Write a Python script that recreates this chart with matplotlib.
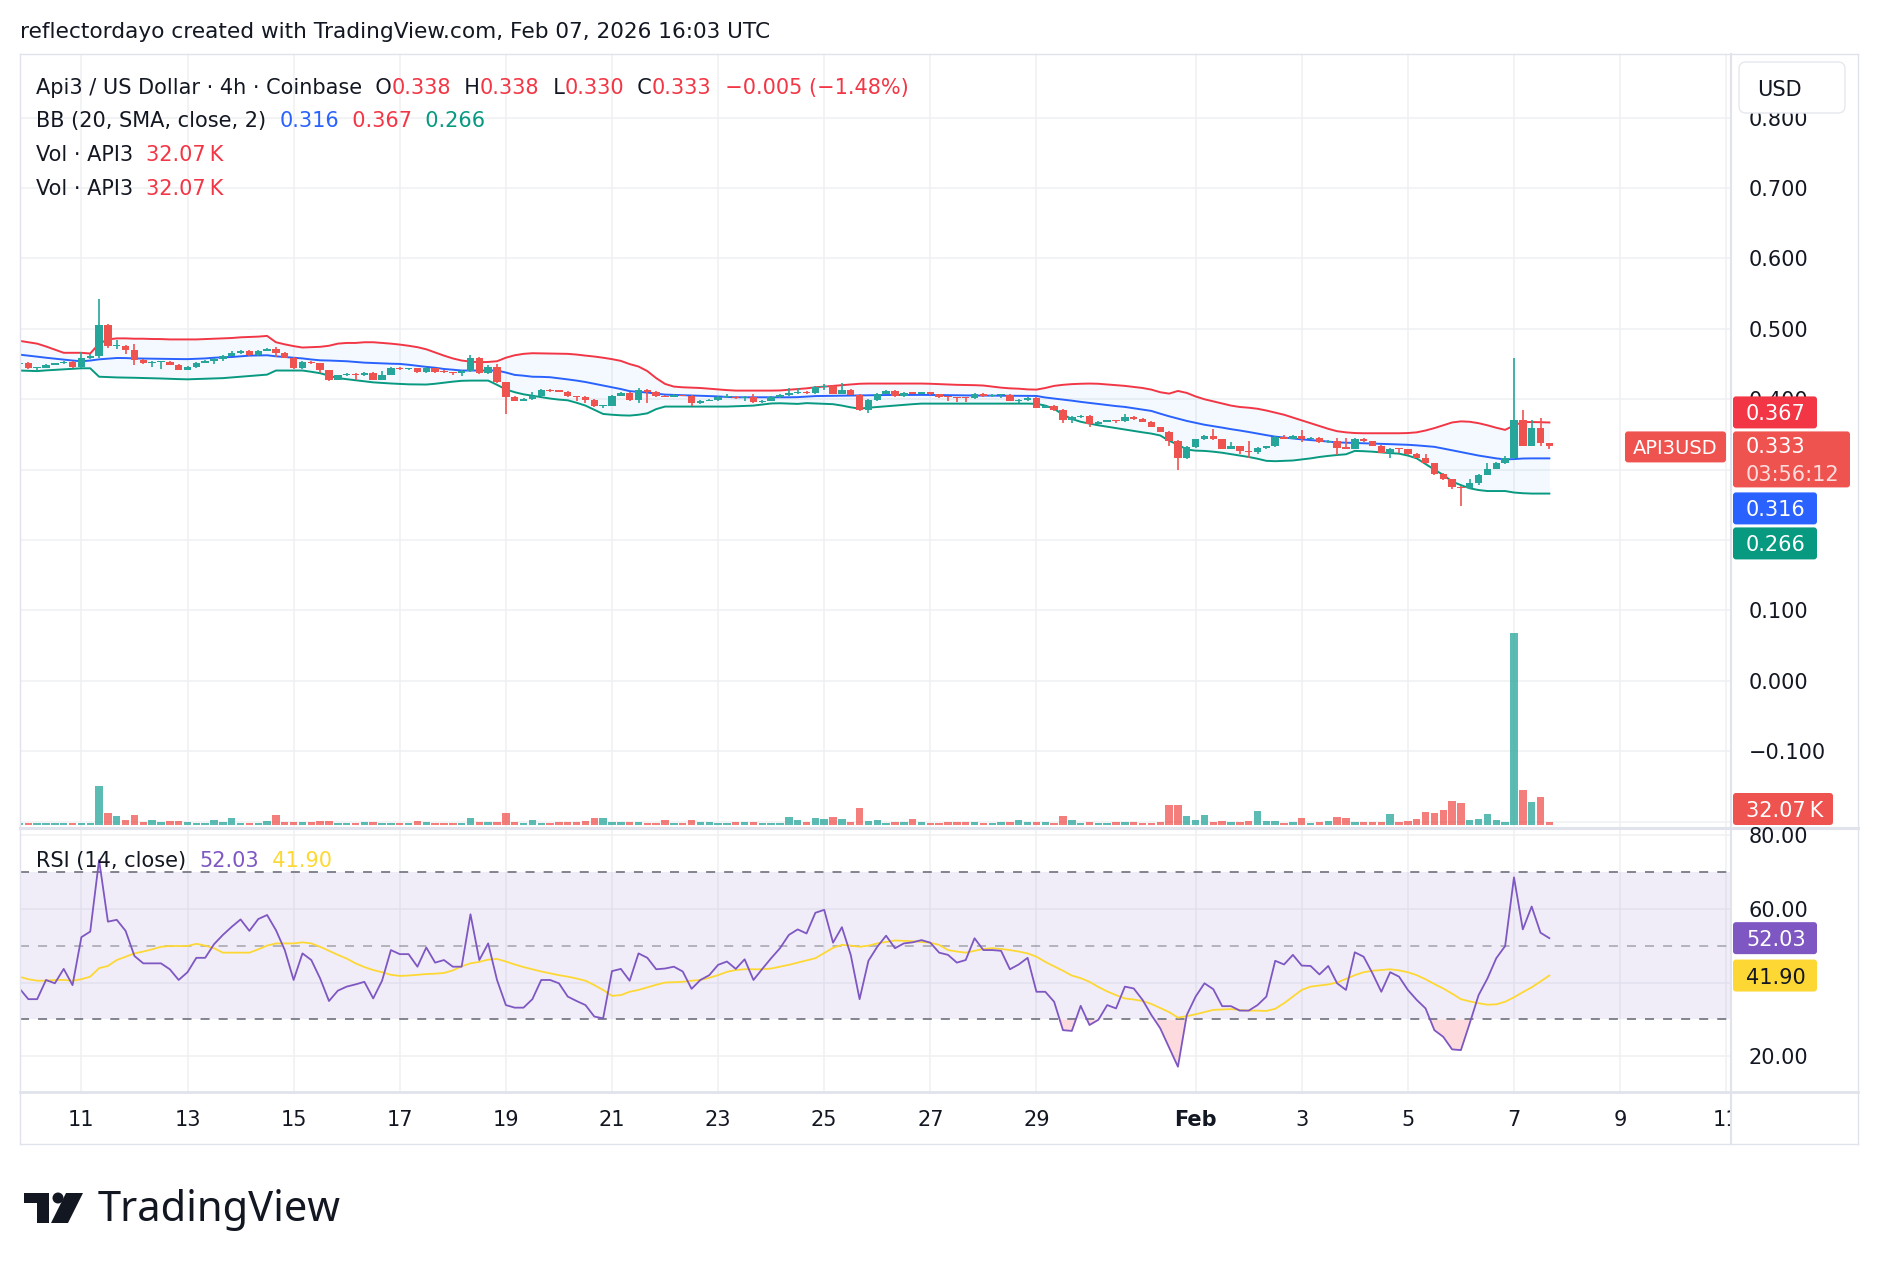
import matplotlib
matplotlib.use('Agg')
import matplotlib.pyplot as plt
import matplotlib.dates as mdates
import matplotlib.transforms as mtrans
from matplotlib.patches import Rectangle, FancyBboxPatch, Circle, Polygon
from matplotlib.lines import Line2D
import numpy as np
import pandas as pd

W, H = 1878, 1266
plt.rcParams['font.family'] = ['DejaVu Sans']

# ---- data (4h candles, Api3 / USD, Coinbase) ----
times = pd.date_range('2026-01-09 20:00', periods=174, freq='4h')
first_open = 0.450

close = [0.452, 0.4447, 0.445, 0.449, 0.451, 0.453, 0.446, 0.459, 0.462, 0.505,
         0.475, 0.476, 0.470, 0.456, 0.451, 0.453, 0.4535, 0.449, 0.442, 0.446,
         0.452, 0.455, 0.457, 0.462, 0.466, 0.469, 0.463, 0.469, 0.472, 0.466,
         0.459, 0.444, 0.453, 0.451, 0.441, 0.428, 0.434, 0.436, 0.434, 0.438,
         0.428, 0.435, 0.4447, 0.443, 0.444, 0.439, 0.4446, 0.439, 0.4385, 0.437,
         0.440, 0.458, 0.437, 0.4455, 0.424, 0.403, 0.398, 0.401, 0.405, 0.413,
         0.412, 0.411, 0.404, 0.403, 0.399, 0.390, 0.391, 0.405, 0.409, 0.399,
         0.413, 0.411, 0.404, 0.4035, 0.406, 0.405, 0.394, 0.398, 0.399, 0.403,
         0.4035, 0.402, 0.403, 0.396, 0.398, 0.403, 0.406, 0.409, 0.411, 0.409,
         0.4175, 0.419, 0.408, 0.4137, 0.4066, 0.385, 0.3986, 0.408, 0.412, 0.4043,
         0.409, 0.408, 0.4097, 0.407, 0.403, 0.4025, 0.402, 0.4015, 0.408, 0.404,
         0.406, 0.4065, 0.398, 0.3995, 0.402, 0.388, 0.391, 0.385, 0.370, 0.375,
         0.376, 0.3645, 0.368, 0.370, 0.369, 0.375, 0.372, 0.368, 0.3607, 0.354,
         0.3407, 0.316, 0.332, 0.343, 0.348, 0.343, 0.330, 0.333, 0.326, 0.325,
         0.331, 0.333, 0.347, 0.344, 0.348, 0.344, 0.345, 0.339, 0.341, 0.331,
         0.330, 0.344, 0.340, 0.334, 0.324, 0.330, 0.329, 0.322, 0.317, 0.309,
         0.294, 0.286, 0.2755, 0.274, 0.281, 0.293, 0.3015, 0.310, 0.316, 0.370,
         0.334, 0.359, 0.338, 0.333]

high = [0.453, 0.453, 0.446, 0.450, 0.452, 0.454, 0.454, 0.467, 0.465, 0.543,
        0.507, 0.484, 0.477, 0.479, 0.457, 0.454, 0.455, 0.455, 0.450, 0.447,
        0.453, 0.456, 0.458, 0.463, 0.469, 0.470, 0.470, 0.470, 0.473, 0.474,
        0.467, 0.460, 0.454, 0.454, 0.452, 0.442, 0.435, 0.437, 0.437, 0.439,
        0.439, 0.440, 0.446, 0.446, 0.445, 0.445, 0.446, 0.445, 0.441, 0.439,
        0.441, 0.4635, 0.460, 0.4485, 0.4495, 0.425, 0.404, 0.402, 0.410, 0.414,
        0.414, 0.413, 0.412, 0.405, 0.404, 0.400, 0.392, 0.406, 0.4105, 0.410,
        0.416, 0.414, 0.412, 0.406, 0.407, 0.4065, 0.406, 0.399, 0.400, 0.404,
        0.408, 0.404, 0.404, 0.408, 0.399, 0.404, 0.407, 0.4155, 0.4155, 0.412,
        0.4185, 0.422, 0.420, 0.4235, 0.415, 0.407, 0.400, 0.409, 0.413, 0.413,
        0.4105, 0.411, 0.411, 0.4105, 0.408, 0.404, 0.403, 0.403, 0.409, 0.409,
        0.407, 0.4075, 0.407, 0.4005, 0.403, 0.403, 0.392, 0.392, 0.386, 0.376,
        0.377, 0.377, 0.369, 0.371, 0.371, 0.379, 0.376, 0.373, 0.369, 0.361,
        0.355, 0.342, 0.334, 0.344, 0.349, 0.358, 0.344, 0.339, 0.334, 0.341,
        0.332, 0.334, 0.348, 0.349, 0.349, 0.357, 0.346, 0.346, 0.342, 0.345,
        0.345, 0.345, 0.345, 0.341, 0.335, 0.331, 0.331, 0.330, 0.323, 0.322,
        0.310, 0.295, 0.287, 0.277, 0.287, 0.294, 0.310, 0.311, 0.320, 0.459,
        0.385, 0.371, 0.373, 0.338]

low = [0.449, 0.4435, 0.442, 0.444, 0.448, 0.450, 0.445, 0.445, 0.457, 0.459,
       0.473, 0.471, 0.464, 0.448, 0.450, 0.446, 0.443, 0.448, 0.441, 0.441,
       0.445, 0.451, 0.450, 0.455, 0.461, 0.465, 0.462, 0.462, 0.468, 0.460,
       0.458, 0.443, 0.443, 0.450, 0.438, 0.426, 0.427, 0.433, 0.427, 0.433,
       0.427, 0.427, 0.434, 0.442, 0.442, 0.438, 0.437, 0.438, 0.437, 0.434,
       0.433, 0.439, 0.436, 0.436, 0.423, 0.379, 0.397, 0.397, 0.399, 0.404,
       0.411, 0.410, 0.403, 0.397, 0.395, 0.389, 0.387, 0.390, 0.404, 0.398,
       0.395, 0.395, 0.403, 0.403, 0.403, 0.404, 0.390, 0.393, 0.397, 0.398,
       0.402, 0.401, 0.398, 0.395, 0.395, 0.397, 0.402, 0.405, 0.408, 0.408,
       0.408, 0.413, 0.407, 0.407, 0.406, 0.384, 0.381, 0.398, 0.407, 0.403,
       0.403, 0.407, 0.407, 0.406, 0.402, 0.398, 0.396, 0.396, 0.401, 0.403,
       0.403, 0.402, 0.397, 0.395, 0.398, 0.387, 0.387, 0.384, 0.3665, 0.3665,
       0.374, 0.361, 0.363, 0.367, 0.366, 0.368, 0.371, 0.367, 0.360, 0.353,
       0.334, 0.300, 0.315, 0.331, 0.342, 0.342, 0.329, 0.329, 0.322, 0.317,
       0.322, 0.330, 0.332, 0.343, 0.343, 0.339, 0.343, 0.338, 0.338, 0.321,
       0.329, 0.329, 0.339, 0.333, 0.323, 0.317, 0.323, 0.321, 0.316, 0.308,
       0.292, 0.285, 0.273, 0.248, 0.273, 0.278, 0.292, 0.301, 0.308, 0.315,
       0.333, 0.333, 0.333, 0.330]

volume_k = [22, 22, 26, 23, 23, 22, 26, 30, 30, 503,
            157, 119, 68, 132, 42, 64, 42, 47, 55, 42,
            26, 26, 64, 42, 90, 26, 22, 26, 55, 132,
            42, 35, 35, 42, 55, 55, 26, 26, 26, 42,
            42, 26, 26, 26, 26, 55, 35, 26, 26, 26,
            23, 93, 42, 42, 42, 157, 35, 30, 64, 30,
            30, 35, 35, 35, 55, 90, 90, 35, 42, 35,
            42, 30, 30, 64, 30, 30, 64, 42, 35, 30,
            30, 35, 35, 35, 30, 30, 30, 102, 64, 35,
            90, 77, 102, 77, 35, 218, 55, 64, 30, 35,
            35, 77, 35, 30, 30, 35, 35, 42, 35, 30,
            30, 42, 35, 64, 35, 35, 35, 30, 115, 64,
            30, 42, 30, 30, 42, 35, 35, 30, 30, 35,
            260, 260, 119, 64, 128, 42, 55, 42, 42, 55,
            179, 47, 55, 30, 35, 90, 30, 42, 55, 102,
            90, 35, 35, 35, 42, 141, 42, 55, 73, 166,
            154, 196, 307, 282, 68, 77, 145, 68, 42, 2460,
            452, 298, 362, 32.07]

bb_upper = [0.483, 0.481, 0.479, 0.475, 0.4705, 0.466, 0.466, 0.466, 0.465, 0.479,
            0.485, 0.4865, 0.4865, 0.486, 0.486, 0.4856, 0.4855, 0.485, 0.485, 0.485,
            0.485, 0.4855, 0.486, 0.4865, 0.487, 0.488, 0.4885, 0.489, 0.490, 0.481,
            0.478, 0.4755, 0.4735, 0.474, 0.4745, 0.476, 0.479, 0.480, 0.480, 0.481,
            0.481, 0.480, 0.479, 0.4777, 0.476, 0.474, 0.471, 0.4665, 0.462, 0.458,
            0.455, 0.4535, 0.4526, 0.453, 0.454, 0.459, 0.4625, 0.4645, 0.4654, 0.4652,
            0.465, 0.4648, 0.4645, 0.4635, 0.462, 0.4607, 0.459, 0.457, 0.4545, 0.450,
            0.4465, 0.440, 0.430, 0.4218, 0.418, 0.417, 0.4165, 0.416, 0.415, 0.414,
            0.413, 0.4123, 0.4123, 0.4123, 0.4123, 0.4123, 0.4125, 0.4135, 0.4145, 0.4155,
            0.417, 0.418, 0.419, 0.420, 0.421, 0.422, 0.4223, 0.4223, 0.4223, 0.4223,
            0.4223, 0.4223, 0.4223, 0.422, 0.4215, 0.421, 0.4205, 0.4203, 0.420, 0.4195,
            0.418, 0.4165, 0.4155, 0.415, 0.414, 0.4137, 0.416, 0.419, 0.4205, 0.4215,
            0.422, 0.4223, 0.422, 0.421, 0.420, 0.419, 0.4175, 0.416, 0.4137, 0.410,
            0.408, 0.4118, 0.409, 0.404, 0.400, 0.397, 0.394, 0.391, 0.389, 0.388,
            0.3865, 0.384, 0.381, 0.378, 0.374, 0.370, 0.366, 0.362, 0.358, 0.3546,
            0.353, 0.352, 0.3517, 0.3517, 0.3517, 0.3517, 0.3517, 0.352, 0.353, 0.3556,
            0.359, 0.363, 0.367, 0.3686, 0.368, 0.366, 0.363, 0.3595, 0.3565, 0.3628,
            0.3676, 0.3676, 0.3674, 0.367]

bb_basis = [0.4634, 0.462, 0.4605, 0.459, 0.4577, 0.4565, 0.455, 0.454, 0.455, 0.4567,
            0.4577, 0.4586, 0.4585, 0.458, 0.4578, 0.4577, 0.4575, 0.4573, 0.4571, 0.457,
            0.4575, 0.458, 0.459, 0.4596, 0.460, 0.461, 0.462, 0.4622, 0.4625, 0.461,
            0.460, 0.459, 0.458, 0.4565, 0.4553, 0.455, 0.4545, 0.454, 0.453, 0.452,
            0.4515, 0.451, 0.4505, 0.4502, 0.449, 0.4475, 0.446, 0.4448, 0.443, 0.442,
            0.4408, 0.4408, 0.4408, 0.4408, 0.4408, 0.438, 0.4346, 0.4335, 0.432, 0.4318,
            0.4313, 0.4298, 0.4282, 0.4265, 0.4245, 0.422, 0.4194, 0.417, 0.4145, 0.4115,
            0.4105, 0.4095, 0.408, 0.4066, 0.4062, 0.4058, 0.4054, 0.405, 0.4045, 0.404,
            0.4033, 0.4028, 0.4028, 0.4028, 0.4028, 0.4028, 0.4028, 0.4028, 0.403, 0.4038,
            0.4045, 0.4047, 0.4048, 0.405, 0.4052, 0.4055, 0.4057, 0.4059, 0.406, 0.406,
            0.4061, 0.4062, 0.4062, 0.4061, 0.406, 0.4058, 0.4056, 0.4055, 0.4053, 0.4052,
            0.4051, 0.405, 0.4049, 0.4048, 0.4048, 0.4047, 0.4025, 0.401, 0.3995, 0.398,
            0.3963, 0.3948, 0.3933, 0.3918, 0.3903, 0.3891, 0.3872, 0.3853, 0.3834, 0.3795,
            0.3758, 0.3725, 0.3692, 0.3665, 0.3638, 0.3618, 0.3597, 0.3575, 0.3556, 0.3535,
            0.3512, 0.349, 0.3469, 0.3456, 0.3443, 0.343, 0.342, 0.341, 0.3398, 0.3387,
            0.3383, 0.3379, 0.3375, 0.3372, 0.3367, 0.3362, 0.3357, 0.3353, 0.3345, 0.3335,
            0.3324, 0.330, 0.3275, 0.325, 0.3225, 0.320, 0.318, 0.316, 0.3145, 0.315,
            0.3158, 0.316, 0.316, 0.316]

bb_lower = [0.4408, 0.4404, 0.440, 0.441, 0.4418, 0.4425, 0.4432, 0.444, 0.444, 0.432,
            0.4315, 0.431, 0.4308, 0.4305, 0.4302, 0.430, 0.4295, 0.429, 0.4286, 0.4283,
            0.4287, 0.4292, 0.4296, 0.430, 0.431, 0.432, 0.433, 0.434, 0.435, 0.4408,
            0.4408, 0.4408, 0.4408, 0.439, 0.437, 0.4335, 0.430, 0.4285, 0.427, 0.4255,
            0.424, 0.4232, 0.4224, 0.4218, 0.4212, 0.421, 0.4209, 0.422, 0.4235, 0.425,
            0.4262, 0.4265, 0.4265, 0.4265, 0.4205, 0.414, 0.410, 0.407, 0.405, 0.403,
            0.401, 0.3995, 0.3985, 0.395, 0.391, 0.385, 0.3791, 0.378, 0.3772, 0.3768,
            0.378, 0.380, 0.386, 0.3896, 0.3896, 0.3896, 0.3896, 0.3896, 0.3896, 0.3896,
            0.3896, 0.390, 0.3905, 0.391, 0.3925, 0.394, 0.3943, 0.3938, 0.3934, 0.3945,
            0.394, 0.3935, 0.393, 0.391, 0.3885, 0.3867, 0.388, 0.389, 0.390, 0.391,
            0.392, 0.393, 0.3938, 0.3938, 0.3938, 0.3938, 0.3938, 0.3938, 0.3938, 0.3938,
            0.3938, 0.3938, 0.3938, 0.3938, 0.3938, 0.3935, 0.391, 0.3865, 0.378, 0.372,
            0.368, 0.3654, 0.363, 0.361, 0.359, 0.3569, 0.355, 0.353, 0.3512, 0.3485,
            0.341, 0.3355, 0.3285, 0.327, 0.3266, 0.3255, 0.324, 0.322, 0.320, 0.318,
            0.3155, 0.3125, 0.312, 0.3125, 0.313, 0.3145, 0.316, 0.318, 0.3195, 0.3208,
            0.3218, 0.3266, 0.3262, 0.3255, 0.3245, 0.3235, 0.3227, 0.320, 0.316, 0.308,
            0.300, 0.2925, 0.2831, 0.278, 0.2735, 0.271, 0.2696, 0.2696, 0.2696, 0.2675,
            0.2665, 0.266, 0.266, 0.266]

rsi = [38.4, 35.5, 35.5, 40.7, 39.8, 43.7, 39.3, 52.3, 53.8, 73.2,
       56.5, 57.0, 54.0, 47.2, 45.2, 45.2, 45.2, 43.6, 40.7, 42.8,
       46.7, 46.7, 50.4, 52.9, 55.1, 57.1, 54.0, 57.2, 58.3, 54.2,
       48.8, 40.7, 47.9, 46.1, 41.1, 35.0, 37.8, 38.9, 39.5, 40.2,
       35.7, 40.5, 48.8, 47.7, 47.7, 44.3, 49.5, 45.4, 46.1, 44.3,
       44.3, 58.5, 46.1, 50.6, 40.7, 33.9, 33.2, 33.2, 35.5, 40.7,
       40.7, 39.8, 36.2, 35.0, 33.9, 30.8, 30.3, 43.1, 43.7, 40.5,
       47.9, 46.7, 43.6, 43.8, 44.3, 43.0, 38.3, 40.7, 42.0, 44.8,
       45.7, 43.7, 46.3, 40.7, 43.7, 46.6, 49.3, 52.9, 54.4, 53.3,
       58.9, 59.7, 50.8, 55.0, 47.5, 35.5, 45.9, 49.7, 52.7, 49.3,
       50.6, 50.9, 51.5, 50.8, 48.1, 47.5, 45.4, 46.1, 52.0, 48.8,
       48.8, 48.6, 43.6, 44.9, 46.7, 37.5, 37.5, 34.8, 27.1, 26.9,
       33.7, 28.5, 29.9, 33.9, 33.0, 38.9, 38.4, 35.3, 31.2, 27.6,
       22.4, 17.2, 31.2, 36.2, 39.8, 38.2, 33.6, 33.6, 32.4, 32.4,
       33.9, 36.2, 45.9, 44.9, 47.5, 44.6, 44.5, 42.2, 44.5, 39.8,
       38.0, 48.2, 47.0, 42.5, 37.5, 42.8, 41.6, 38.0, 35.3, 33.0,
       27.1, 25.3, 21.9, 21.7, 29.0, 36.6, 41.1, 46.6, 49.9, 68.5,
       54.4, 60.6, 53.5, 52.03]

rsi_ma = [41.6, 40.9, 40.5, 40.5, 40.7, 40.7, 40.5, 40.9, 41.6, 43.9,
          44.5, 46.1, 47.0, 47.9, 48.4, 49.0, 49.7, 49.9, 49.9, 49.9,
          50.5, 50.0, 49.3, 48.1, 48.1, 48.1, 48.1, 49.0, 50.0, 50.6,
          50.6, 50.6, 50.9, 50.6, 49.7, 48.6, 47.5, 46.5, 45.2, 44.2,
          43.4, 42.8, 42.1, 41.8, 41.9, 42.1, 42.3, 42.4, 42.6, 43.3,
          44.4, 45.2, 45.6, 46.2, 46.4, 45.7, 44.9, 44.2, 43.6, 43.0,
          42.5, 42.0, 41.6, 41.1, 40.5, 39.3, 38.0, 36.4, 36.6, 37.5,
          38.0, 38.7, 39.4, 40.0, 40.1, 40.2, 40.5, 40.7, 41.3, 42.0,
          42.9, 43.4, 43.6, 43.6, 43.6, 43.8, 44.3, 44.8, 45.4, 46.0,
          46.6, 48.0, 49.4, 50.2, 50.0, 49.7, 50.0, 50.6, 51.0, 51.4,
          51.3, 51.2, 51.0, 50.8, 50.2, 48.8, 48.4, 48.1, 48.6, 49.1,
          49.3, 49.1, 48.8, 48.4, 47.9, 47.0, 45.6, 44.4, 43.2, 41.9,
          41.2, 40.2, 38.8, 37.6, 36.6, 35.7, 35.4, 35.0, 34.2, 33.1,
          32.0, 30.5, 30.9, 31.4, 32.0, 32.6, 32.7, 32.8, 32.6, 32.4,
          32.4, 32.3, 32.9, 34.4, 36.2, 38.0, 38.9, 39.2, 39.5, 40.0,
          41.0, 42.0, 42.8, 43.2, 43.4, 43.6, 43.3, 42.8, 42.0, 40.9,
          39.6, 38.4, 37.0, 35.5, 34.9, 34.4, 34.0, 34.1, 34.8, 36.0,
          37.4, 38.7, 40.3, 41.90]

tick_dates = ['2026-01-11', '2026-01-13', '2026-01-15', '2026-01-17', '2026-01-19',
              '2026-01-21', '2026-01-23', '2026-01-25', '2026-01-27', '2026-01-29',
              '2026-02-01', '2026-02-03', '2026-02-05', '2026-02-07', '2026-02-09',
              '2026-02-11']
tick_labels = ['11', '13', '15', '17', '19', '21', '23', '25', '27', '29',
               'Feb', '3', '5', '7', '9', '11']
price_grid = [0.8, 0.7, 0.6, 0.5, 0.4, 0.3, 0.2, 0.1, 0.0, -0.1, -0.2]
price_ticks = [0.8, 0.7, 0.6, 0.5, 0.4, 0.1, 0.0, -0.1]
rsi_grid = [80, 60, 40, 20]
rsi_ticks = [80, 60, 20]

# ---- colours ----
UP, DOWN = '#26a69a', '#ef5350'
INK = '#131722'
RED = '#f23645'
GRID = '#eef0f3'
SEP = '#e0e3eb'
FS = 15

x = mdates.date2num(times)
c = np.array(close)
o = np.r_[first_open, c[:-1]]
up = c >= o
col = np.where(up, UP, DOWN)

fig = plt.figure(figsize=(W / 100, H / 100), dpi=100)
fig.patch.set_facecolor('white')


def frac(l, t, r, b):
    return [l / W, 1 - b / H, (r - l) / W, (b - t) / H]


xlim = (mdates.date2num(pd.Timestamp('2026-01-09 20:14')),
        mdates.date2num(pd.Timestamp('2026-02-11 02:10')))

ax = fig.add_axes(frac(20, 54, 1731, 827))
ax_vol = fig.add_axes(frac(20, 54, 1731, 827), sharex=ax)
ax_rsi = fig.add_axes(frac(20, 829, 1731, 1092), sharex=ax)
ax_time = fig.add_axes(frac(20, 1092, 1731, 1144), sharex=ax)
ax_vol.patch.set_visible(False)
for a in (ax_vol, ax, ax_rsi, ax_time):
    a.set_xlim(*xlim)
    for s in a.spines.values():
        s.set_visible(False)
    a.tick_params(left=False, bottom=False, labelleft=False, labelbottom=False)

ax.set_ylim(-0.2077, 0.8905)
ax_vol.set_ylim(-25.6, 9856)
ax_rsi.set_ylim(10.35, 81.6)
ax_time.set_ylim(0, 1)

tick_x = mdates.date2num(pd.to_datetime(tick_dates))
for a in (ax, ax_rsi):
    for tx in tick_x:
        a.axvline(tx, color=GRID, lw=1.1, zorder=0)
for p in price_grid:
    ax.axhline(p, color=GRID, lw=1.1, zorder=0)
for r in rsi_grid:
    ax_rsi.axhline(r, color=GRID, lw=1.1, zorder=0)

# volume overlay (own scale, bottom of the price pane)
ax_vol.bar(x, volume_k, width=0.14, color=col, alpha=0.75, linewidth=0)

# Bollinger bands
ax.fill_between(x, bb_lower, bb_upper, color='#2196f3', alpha=0.05, lw=0, zorder=1)
ax.plot(x, bb_upper, color='#f23645', lw=1.4, zorder=2)
ax.plot(x, bb_basis, color='#2962ff', lw=1.4, zorder=2)
ax.plot(x, bb_lower, color='#089981', lw=1.4, zorder=2)

# candles
ax.vlines(x, low, high, colors=col, lw=1.2, zorder=3)
ax.bar(x, np.maximum(np.abs(c - o), 0.0016), bottom=np.minimum(o, c), width=0.14,
       color=col, linewidth=0, zorder=4)

# RSI
r_arr = np.array(rsi)
ax_rsi.axhspan(30, 70, color='#7e57c2', alpha=0.1, lw=0, zorder=1)
ax_rsi.fill_between(x, r_arr, 30, where=r_arr < 30, interpolate=True,
                    color='#f23645', alpha=0.18, lw=0, zorder=2)
ax_rsi.fill_between(x, r_arr, 70, where=r_arr > 70, interpolate=True,
                    color='#089981', alpha=0.18, lw=0, zorder=2)
for lvl, al in ((70, 1.0), (50, 0.55), (30, 1.0)):
    ax_rsi.axhline(lvl, color='#787b86', alpha=al, lw=1.3, ls=(0, (5, 5)), zorder=2)
ax_rsi.plot(x, rsi_ma, color='#fdd835', lw=1.3, zorder=3)
ax_rsi.plot(x, rsi, color='#7e57c2', lw=1.3, zorder=4)

# time axis labels
for tx, lab in zip(tick_x, tick_labels):
    ax_time.text(tx, 0.5, lab, ha='center', va='center_baseline', fontsize=FS, color=INK,
                 fontweight='bold' if lab == 'Feb' else 'normal', clip_on=True)

# ---- frame and separators ----
ident = mtrans.IdentityTransform()


def hline(y, x0, x1, lw, color=SEP):
    fig.add_artist(Line2D([x0 / W, x1 / W], [1 - y / H, 1 - y / H], color=color, lw=lw,
                          transform=fig.transFigure, zorder=5))


def vline(xp, y0, y1, lw, color=SEP):
    fig.add_artist(Line2D([xp / W, xp / W], [1 - y0 / H, 1 - y1 / H], color=color, lw=lw,
                          transform=fig.transFigure, zorder=5))


hline(54, 20, 1858, 1.0)
hline(1144, 20, 1858, 1.0)
vline(20, 54, 1144, 1.0)
vline(1858, 54, 1144, 1.0)
hline(828, 20, 1858, 2.2)
hline(1092, 20, 1858, 2.0)
vline(1731, 54, 1144, 1.5)

# ---- price scale ----
fig.canvas.draw()
to_px_price = lambda v: H - ax.transData.transform((0, v))[1]
to_px_rsi = lambda v: H - ax_rsi.transData.transform((0, v))[1]

for p in price_ticks:
    lab = ('\u2212%.3f' % abs(p)) if p < 0 else '%.3f' % p
    fig.text(1749 / W, 1 - to_px_price(p) / H, lab, fontsize=FS, color=INK,
             va='center_baseline', ha='left', zorder=6)
for r in rsi_ticks:
    fig.text(1749 / W, 1 - to_px_rsi(r) / H, '%.2f' % r, fontsize=FS, color=INK,
             va='center_baseline', ha='left', zorder=6)


def tag(x0, y0, w, h, face, lines, tcol='white', center=False, fs=FS):
    fig.add_artist(FancyBboxPatch((x0, H - y0 - h), w, h,
                                  boxstyle='round,pad=0,rounding_size=3',
                                  transform=ident, fc=face, ec='none', zorder=10))
    n = len(lines)
    for i, (s, al) in enumerate(lines):
        yc = y0 + h * (i + 0.5) / n
        xt = x0 + w / 2 if center else x0 + 13
        fig.text(xt / W, 1 - yc / H, s, fontsize=fs, color=tcol, alpha=al,
                 va='center_baseline', ha='center' if center else 'left', zorder=11)


# last price block, the other tags stacked around it
y_last = to_px_price(close[-1])
top_last = y_last - 15
tag(1733, top_last, 117, 56, '#ef5350', [('0.333', 1), ('03:56:12', 0.8)])
tag(1625, top_last, 101, 31, '#ef5350', [('API3USD', 1)], center=True, fs=14)
tag(1733, top_last - 35, 84, 32, '#f23645', [('0.367', 1)])
tag(1733, top_last + 61, 84, 32, '#2962ff', [('0.316', 1)])
tag(1733, top_last + 96, 84, 32, '#089981', [('0.266', 1)])
tag(1733, 793, 100, 32, '#ef5350', [('32.07\u2009K', 1)])
tag(1733, to_px_rsi(rsi[-1]) - 16, 84, 32, '#7e57c2', [('52.03', 1)])
tag(1733, to_px_rsi(rsi_ma[-1]) - 16, 84, 32, '#fdd835', [('41.90', 1)], tcol=INK)

# USD unit box
fig.add_artist(FancyBboxPatch((1739, H - 113), 106, 51,
                              boxstyle='round,pad=0,rounding_size=7',
                              transform=ident, fc='white', ec='#e6e8ee', lw=1, zorder=10))
fig.text(1757 / W, 1 - 88 / H, 'USD', fontsize=FS, color=INK, va='center_baseline',
         ha='left', zorder=11)

# ---- legends ----
renderer = fig.canvas.get_renderer()


def runs(xp, yp, parts, size=FS):
    for s, cl in parts:
        t = fig.text(xp / W, 1 - yp / H, s, fontsize=size, color=cl,
                     va='center_baseline', ha='left', zorder=7)
        xp += t.get_window_extent(renderer).width


runs(20, 30, [('reflectordayo created with TradingView.com, Feb 07, 2026 16:03 UTC', INK)], 15.6)
runs(36, 86, [('Api3 / US Dollar \u00b7 4h \u00b7 Coinbase  O', INK), ('0.338', RED),
              ('  H', INK), ('0.338', RED), ('  L', INK), ('0.330', RED), ('  C', INK),
              ('0.333', RED), ('  \u22120.005 (\u22121.48%)', RED)])
runs(36, 119, [('BB (20, SMA, close, 2)  ', INK), ('0.316', '#2962ff'), ('  0.367', RED),
               ('  0.266', '#089981')])
runs(36, 153, [('Vol \u00b7 API3  ', INK), ('32.07\u2009K', RED)])
runs(36, 187, [('Vol \u00b7 API3  ', INK), ('32.07\u2009K', RED)])
runs(36, 859, [('RSI (14, close)  ', INK), ('52.03', '#7e57c2'), ('  41.90', '#fdd835')])

# ---- TradingView logo ----
logo = dict(transform=ident, fc=INK, ec='none', zorder=10)
fig.add_artist(Rectangle((24, H - 1203), 25, 10, **logo))
fig.add_artist(Rectangle((37, H - 1223), 12, 30, **logo))
fig.add_artist(Circle((58, H - 1198), 5.5, **logo))
fig.add_artist(Polygon([(66, H - 1193), (83, H - 1193), (68, H - 1223), (51, H - 1223)], **logo))
fig.text(98 / W, 1 - 1205 / H, 'TradingView', fontsize=30, fontweight='bold', color=INK,
         va='center_baseline', ha='left', family='Noto Sans')

fig.savefig('out.png', dpi=100, facecolor='white')
